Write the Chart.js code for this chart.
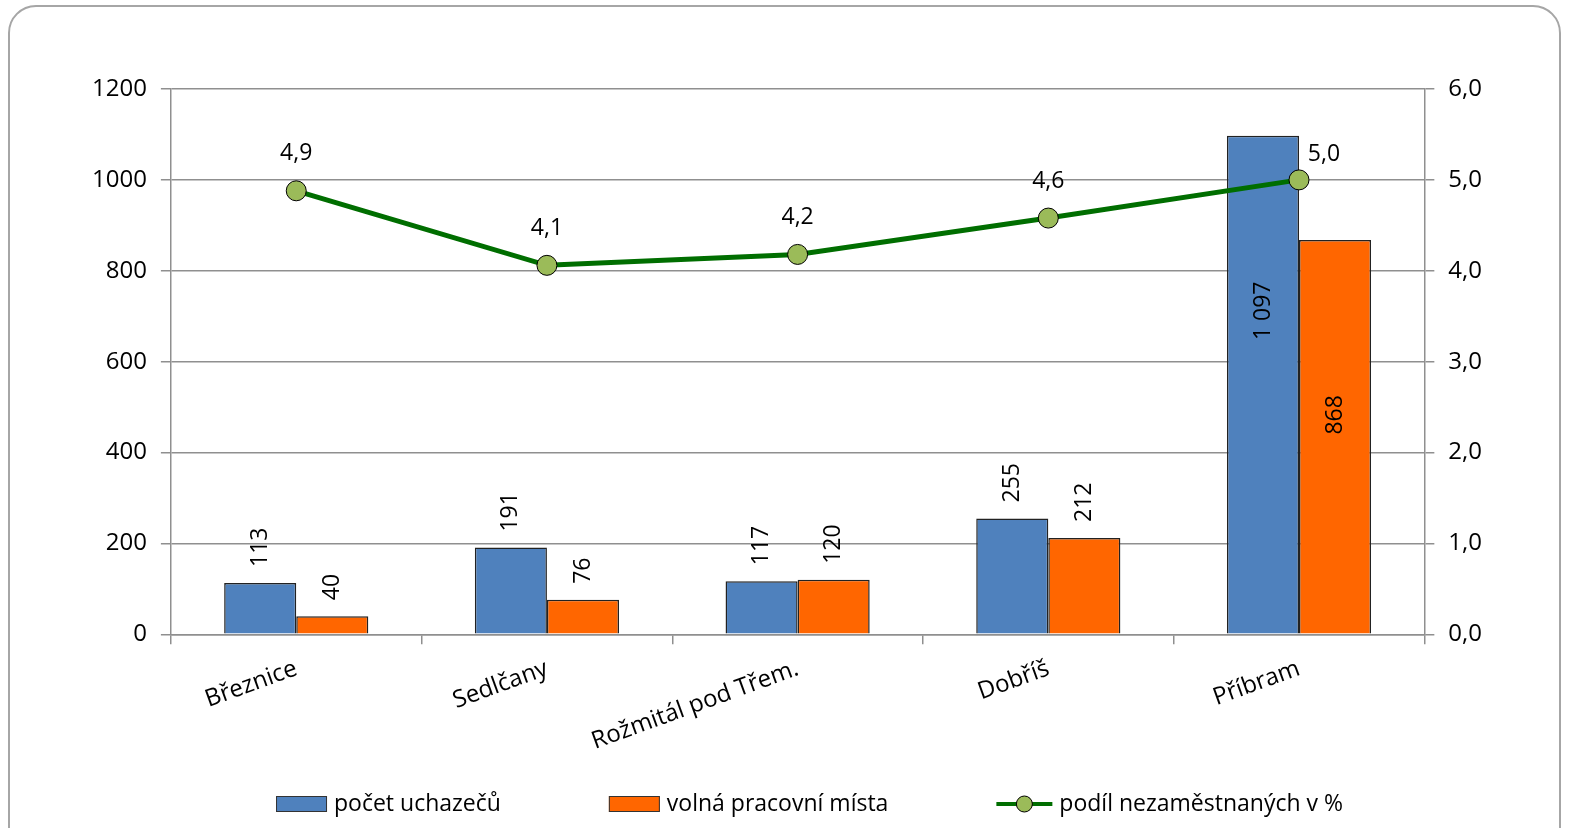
<!DOCTYPE html>
<html>
<head>
<meta charset="utf-8">
<script src="https://cdn.jsdelivr.net/npm/chart.js@4.4.1/dist/chart.umd.min.js"></script>
<style>
  html, body { margin:0; padding:0; background:#fff; overflow:hidden; }
  #wrap { position:relative; width:1569px; height:828px; }
  #frame { position:absolute; left:8px; top:5px; width:1549px; height:870px; border:2px solid #a6a6a6; border-radius:28px; pointer-events:none; }
  canvas { position:absolute; left:0; top:0; }
</style>
</head>
<body>
<div id="wrap">
  <div id="frame"></div>
  <canvas id="chart" width="1569" height="828"></canvas>
</div>
<script>
// data
const categories = ['Březnice', 'Sedlčany', 'Rožmitál pod Třem.', 'Dobříš', 'Příbram'];
const uchazeci = [113, 191, 117, 255, 1097];
const mista = [40, 76, 120, 212, 868];
const podil = [4.88, 4.06, 4.18, 4.58, 5.0];
const seriesNames = ['počet uchazečů', 'volná pracovní místa', 'podíl nezaměstnaných v %'];

const BLUE = '#4f81bd', ORANGE = '#ff6600', GREEN = '#006e00', POINT = '#9bbb59';
const GRID = '#8f8f8f';
const FONT = "'Open Sans', sans-serif";
const FS = 24;

Chart.defaults.font.family = FONT;
Chart.defaults.font.size = FS;
Chart.defaults.color = '#000';

const fmtInt = v => String(v).replace(/\B(?=(\d{3})+(?!\d))/g, ' ');
const fmtDec = v => v.toFixed(1).replace('.', ',');

// value labels: rotated for bars, horizontal above points for the line
const valueLabels = {
  id: 'valueLabels',
  afterDatasetsDraw(chart){
    const ctx = chart.ctx;
    ctx.save();
    ctx.fillStyle = '#000';
    ctx.font = '23px ' + FONT;
    [0, 1].forEach(di => {
      const meta = chart.getDatasetMeta(di);
      meta.data.forEach((bar, i) => {
        const v = chart.data.datasets[di].data[i];
        ctx.save();
        ctx.translate(bar.x, bar.y);
        ctx.rotate(-Math.PI / 2);
        ctx.textBaseline = 'middle';
        if (v > 500) {
          ctx.textAlign = 'center';
          ctx.fillText(fmtInt(v), -175, 0);
        } else {
          ctx.textAlign = 'left';
          ctx.fillText(fmtInt(v), 16, 0);
        }
        ctx.restore();
      });
    });
    const lm = chart.getDatasetMeta(2);
    ctx.textAlign = 'center';
    ctx.textBaseline = 'middle';
    lm.data.forEach((pt, i) => {
      const last = i === lm.data.length - 1;
      ctx.fillText(fmtDec(podil[i]), pt.x + (last ? 25 : 0), pt.y - (last ? 25 : 37));
    });
    ctx.restore();
  }
};

// legend drawn by hand so the items can sit far apart on one row
const wideLegend = {
  id: 'wideLegend',
  afterDraw(chart){
    const ctx = chart.ctx;
    ctx.save();
    ctx.font = '23px ' + FONT;
    ctx.textBaseline = 'middle';
    const markW = [51, 51, 56], gap = 7, space = 108;
    const widths = seriesNames.map((n, i) => markW[i] + gap + ctx.measureText(n).width);
    const total = widths.reduce((a, b) => a + b, 0) + space * 2;
    let x = chart.width / 2 + 25 - total / 2;
    const y = 804;
    seriesNames.forEach((name, i) => {
      if (i < 2) {
        ctx.fillStyle = i === 0 ? BLUE : ORANGE;
        ctx.fillRect(x, y - 8, 51, 16);
        ctx.strokeStyle = '#333';
        ctx.lineWidth = 1;
        ctx.strokeRect(x + 0.5, y - 7.5, 50, 15);
      } else {
        ctx.strokeStyle = GREEN;
        ctx.lineWidth = 4;
        ctx.beginPath(); ctx.moveTo(x, y); ctx.lineTo(x + 56, y); ctx.stroke();
        ctx.beginPath(); ctx.arc(x + 28, y, 8, 0, Math.PI * 2);
        ctx.fillStyle = POINT; ctx.fill();
        ctx.lineWidth = 1; ctx.strokeStyle = '#000'; ctx.stroke();
      }
      ctx.fillStyle = '#000';
      ctx.textAlign = 'left';
      ctx.fillText(name, x + markW[i] + gap, y);
      x += widths[i] + space;
    });
    ctx.restore();
  }
};

new Chart(document.getElementById('chart'), {
  type: 'bar',
  data: {
    labels: categories,
    datasets: [
      { label: seriesNames[0], data: uchazeci, backgroundColor: BLUE, borderColor: '#222', borderWidth: 1.5, yAxisID: 'y', order: 1 },
      { label: seriesNames[1], data: mista, backgroundColor: ORANGE, borderColor: '#222', borderWidth: 1.5, yAxisID: 'y', order: 1 },
      { type: 'line', label: seriesNames[2], data: podil, yAxisID: 'y2', order: 0,
        borderColor: GREEN, borderWidth: 5, pointRadius: 10, pointBackgroundColor: POINT,
        pointBorderColor: '#000', pointBorderWidth: 1, tension: 0 }
    ]
  },
  options: {
    responsive: false,
    animation: false,
    layout: { padding: { left: 78, right: 73, top: 89, bottom: 62 } },
    datasets: { bar: { barPercentage: 1, categoryPercentage: 0.575 } },
    plugins: { legend: { display: false }, tooltip: { enabled: false } },
    scales: {
      x: {
        grid: { drawOnChartArea: false, color: GRID, lineWidth: 1.5, tickLength: 10 },
        border: { color: GRID, width: 1.5 },
        ticks: { autoSkip: false, minRotation: 20, maxRotation: 20, padding: 10 }
      },
      y: {
        min: 0, max: 1200,
        ticks: { stepSize: 200, padding: 14, callback: v => String(v) },
        grid: { color: GRID, lineWidth: 1.5, tickLength: 10 },
        border: { color: GRID, width: 1.5 }
      },
      y2: {
        position: 'right', min: 0, max: 6,
        ticks: { stepSize: 1, padding: 14, callback: v => fmtDec(v) },
        grid: { drawOnChartArea: false, color: GRID, lineWidth: 1.5, tickLength: 10 },
        border: { color: GRID, width: 1.5 }
      }
    }
  },
  plugins: [valueLabels, wideLegend]
});
</script>
</body>
</html>
